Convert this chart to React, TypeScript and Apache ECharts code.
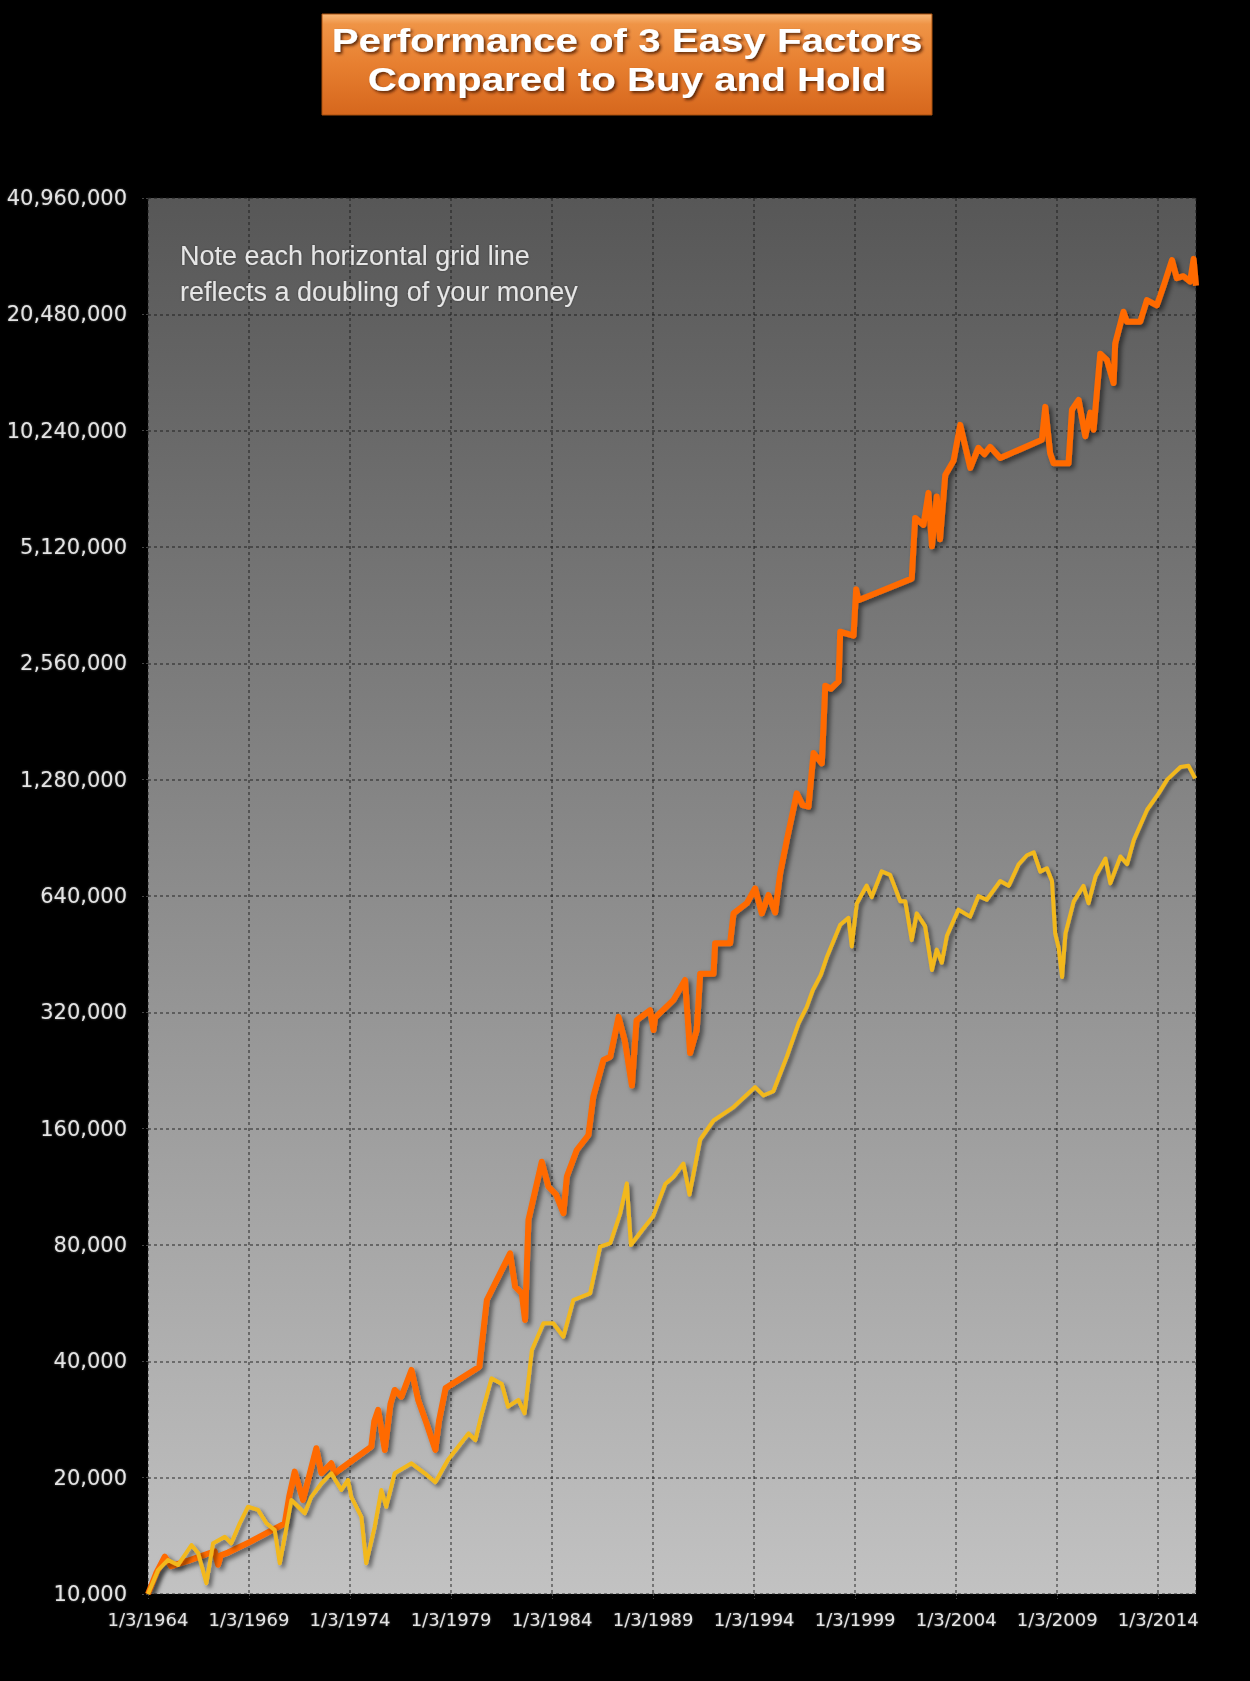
import React, { useEffect, useRef } from "react";
import * as echarts from "echarts";

// ---- tick labels ----
const xTickLabels = [
  "1/3/1964", "1/3/1969", "1/3/1974", "1/3/1979", "1/3/1984", "1/3/1989",
  "1/3/1994", "1/3/1999", "1/3/2004", "1/3/2009", "1/3/2014",
];
const yTickLabels = [
  "10,000", "20,000", "40,000", "80,000", "160,000", "320,000", "640,000",
  "1,280,000", "2,560,000", "5,120,000", "10,240,000", "20,480,000", "40,960,000",
];

const startYear = 1964;
const endYear = 2015.87;
const baseValue = 10000;

// ---- 3 Easy Factors (orange) ----
const factorYears = [
  1964.0, 1964.4, 1964.83, 1965.15, 1966.0, 1967.3, 1967.47, 1967.6, 1967.96, 1969.0,
  1970.0, 1970.77, 1971.0, 1971.26, 1971.67, 1971.9, 1972.33, 1972.58, 1973.07, 1973.24,
  1975.05, 1975.2, 1975.39, 1975.72, 1976.0, 1976.21, 1976.54, 1977.04, 1977.37, 1977.8,
  1978.22, 1978.4, 1978.73, 1980.4, 1980.77, 1981.92, 1982.17, 1982.5, 1982.66, 1982.83,
  1983.49, 1983.82, 1984.2, 1984.56, 1984.73, 1985.22, 1985.8, 1986.04, 1986.54, 1986.88,
  1987.29, 1987.6, 1987.95, 1988.18, 1988.85, 1989.02, 1989.1, 1990.0, 1990.58, 1990.83,
  1991.16, 1991.33, 1991.99, 1992.07, 1992.81, 1992.98, 1993.64, 1994.05, 1994.38, 1994.71,
  1995.04, 1995.29, 1995.62, 1996.11, 1996.4, 1996.69, 1996.94, 1997.35, 1997.52, 1997.8,
  1998.18, 1998.26, 1998.92, 1999.05, 1999.16, 2001.8, 2001.97, 2002.38, 2002.63, 2002.8,
  2003.04, 2003.2, 2003.46, 2003.87, 2004.2, 2004.7, 2005.1, 2005.4, 2005.68, 2006.18,
  2008.24, 2008.41, 2008.65, 2008.82, 2009.56, 2009.73, 2010.06, 2010.39, 2010.64, 2010.8,
  2011.13, 2011.46, 2011.79, 2011.87, 2012.28, 2012.45, 2013.11, 2013.44, 2013.93, 2014.26,
  2014.68, 2014.92, 2015.25, 2015.58, 2015.75, 2015.87,
];
const factorValues = [
  10000, 11300, 12500, 11800, 12200, 12900, 11900, 12600, 12800, 13600,
  14500, 15240, 18000, 20740, 17510, 19500, 23830, 20530, 21790, 20530,
  24060, 28000, 29940, 23590, 31000, 33730, 32400, 38000, 31780, 27500,
  23600, 28000, 34100, 38750, 57650, 76140, 62400, 60000, 51170, 92860,
  131400, 113200, 108000, 96650, 120300, 140900, 154100, 193700, 240900, 245600,
  311400, 270000, 207000, 305000, 324000, 288000, 310000, 344000, 388000, 251000,
  288000, 403000, 403000, 483000, 483000, 577000, 613000, 670000, 577000, 644000,
  580000, 733000, 894000, 1180000, 1100000, 1090000, 1500000, 1410000, 2240000, 2200000,
  2300000, 3090000, 3020000, 3980000, 3730000, 4240000, 6090000, 5840000, 7070000, 5140000,
  6920000, 5360000, 7860000, 8560000, 10600000, 8200000, 9250000, 8900000, 9300000, 8700000,
  9700000, 11800000, 8950000, 8430000, 8430000, 11600000, 12300000, 9900000, 11400000, 10300000,
  16200000, 15600000, 13600000, 17200000, 20800000, 19600000, 19600000, 22300000, 21600000, 24200000,
  28300000, 25400000, 25700000, 24900000, 28500000, 24300000,
];

// ---- Buy and Hold (yellow) ----
const holdYears = [
  1964.0, 1964.5, 1964.99, 1965.49, 1966.15, 1966.48, 1966.89, 1967.22, 1967.8, 1968.12,
  1968.54, 1968.95, 1969.45, 1969.86, 1970.27, 1970.52, 1970.77, 1971.1, 1971.76, 1972.08,
  1972.58, 1973.07, 1973.57, 1973.9, 1974.06, 1974.56, 1974.8, 1975.22, 1975.55, 1975.79,
  1976.21, 1977.04, 1977.7, 1978.22, 1978.84, 1979.87, 1980.2, 1980.48, 1981.0, 1981.51,
  1981.82, 1982.33, 1982.64, 1983.0, 1983.57, 1984.06, 1984.56, 1985.05, 1985.88, 1986.38,
  1986.88, 1987.37, 1987.7, 1987.9, 1988.5, 1989.0, 1989.6, 1990.0, 1990.5, 1990.8,
  1991.33, 1991.99, 1992.98, 1994.05, 1994.46, 1994.95, 1995.62, 1996.2, 1996.6, 1996.9,
  1997.3, 1997.6, 1998.26, 1998.67, 1998.83, 1999.08, 1999.57, 1999.82, 2000.31, 2000.73,
  2001.23, 2001.48, 2001.8, 2002.05, 2002.46, 2002.8, 2003.04, 2003.29, 2003.54, 2004.11,
  2004.69, 2005.1, 2005.51, 2006.18, 2006.6, 2007.09, 2007.5, 2007.84, 2008.16, 2008.49,
  2008.74, 2008.9, 2009.07, 2009.24, 2009.41, 2009.82, 2010.3, 2010.55, 2010.9, 2011.39,
  2011.63, 2012.13, 2012.46, 2012.79, 2013.45, 2014.02, 2014.44, 2015.1, 2015.5, 2015.83,
];
const holdValues = [
  10000, 11530, 12250, 11890, 13390, 12770, 10660, 13530, 14070, 13530,
  15240, 16820, 16500, 15240, 14640, 12010, 14070, 17510, 16180, 17840,
  19320, 20530, 18590, 19730, 17840, 15830, 12010, 14940, 18590, 16820,
  20530, 21790, 20530, 19470, 22220, 26050, 25000, 28760, 36150, 34960,
  30530, 31780, 29350, 42790, 50180, 50180, 46330, 57650, 60000, 79200,
  80900, 96650, 115500, 80000, 88000, 95000, 115000, 120000, 130000, 108000,
  150000, 168000, 182000, 205000, 195000, 200000, 246000, 300000, 330000, 365000,
  400000, 445000, 539000, 562000, 474000, 612000, 681000, 636000, 741000, 726000,
  620000, 620000, 492000, 577000, 535000, 412000, 465000, 430000, 505000, 590000,
  566000, 640000, 626000, 700000, 680000, 773000, 816000, 830000, 740000, 755000,
  700000, 512000, 470000, 395000, 512000, 620000, 680000, 613000, 720000, 800000,
  690000, 810000, 774000, 893000, 1070000, 1180000, 1280000, 1380000, 1390000, 1290000,
];

const toPoints = (years: number[], values: number[]) =>
  years.map((yr, i) => [yr - startYear, Math.log2(values[i] / baseValue)]);

export default function App() {
  const ref = useRef<HTMLDivElement>(null);

  useEffect(() => {
    if (!ref.current) return;
    const chart = echarts.init(ref.current, undefined, { renderer: "svg" });

    const gridLine = { color: "rgba(25,25,25,0.6)", type: [3, 3] as any, width: 1.5 };

    const titleStyle = {
      x: 0,
      y: 0,
      font: 'bold 33px "Liberation Sans", Arial, sans-serif',
      fill: "#ffffff",
      textAlign: "center",
      align: "center",
      textVerticalAlign: "middle",
      verticalAlign: "middle",
      textShadowColor: "rgba(70,25,0,0.85)",
      textShadowBlur: 3,
      textShadowOffsetX: 2,
      textShadowOffsetY: 2,
    };
    const noteStyle = {
      font: '27px "Liberation Sans", Arial, sans-serif',
      fill: "#e6e6e6",
      textAlign: "left",
      align: "left",
      textVerticalAlign: "middle",
      verticalAlign: "middle",
      textShadowColor: "rgba(0,0,0,0.4)",
      textShadowBlur: 2,
    };

    const option: any = {
      animation: false,
      backgroundColor: "#000000",
      grid: {
        left: 148,
        top: 198,
        width: 1048,
        height: 1396,
        show: true,
        borderWidth: 0,
        backgroundColor: new echarts.graphic.LinearGradient(0, 0, 0, 1, [
          { offset: 0, color: "#575757" },
          { offset: 1, color: "#c2c2c2" },
        ]),
      },
      xAxis: {
        type: "value",
        min: 0,
        max: endYear - startYear,
        interval: 5,
        axisLine: { show: false },
        axisTick: { show: true, length: 5, lineStyle: { color: "#444", type: [2, 2] } },
        splitLine: { show: true, lineStyle: gridLine },
        axisLabel: {
          margin: 16,
          color: "#e4e4e4",
          fontSize: 18,
          fontFamily: "DejaVu Sans",
          showMaxLabel: false,
          textShadowColor: "rgba(255,255,255,0.35)",
          textShadowBlur: 2,
          formatter: (v: number) => {
            const i = Math.round(v / 5);
            return Math.abs(v - i * 5) < 1e-6 && xTickLabels[i] ? xTickLabels[i] : "";
          },
        },
      },
      yAxis: {
        type: "value",
        min: 0,
        max: 12,
        interval: 1,
        axisLine: { show: false },
        axisTick: { show: true, length: 6, lineStyle: { color: "#444", type: [2, 2] } },
        splitLine: { show: true, lineStyle: gridLine },
        axisLabel: {
          margin: 21,
          color: "#e4e4e4",
          fontSize: 21,
          fontFamily: "DejaVu Sans",
          textShadowColor: "rgba(255,255,255,0.35)",
          textShadowBlur: 2,
          formatter: (v: number) => yTickLabels[Math.round(v)] ?? "",
        },
      },
      series: [
        {
          name: "3 Easy Factors",
          type: "line",
          data: toPoints(factorYears, factorValues),
          showSymbol: false,
          z: 3,
          lineStyle: {
            color: "#FF6A00",
            width: 6,
            join: "round",
            shadowColor: "rgba(0,0,0,0.55)",
            shadowBlur: 5,
            shadowOffsetX: 3,
            shadowOffsetY: 3,
          },
        },
        {
          name: "Buy and Hold",
          type: "line",
          data: toPoints(holdYears, holdValues),
          showSymbol: false,
          z: 4,
          lineStyle: {
            color: "#F2B81E",
            width: 4,
            join: "round",
            shadowColor: "rgba(0,0,0,0.5)",
            shadowBlur: 4,
            shadowOffsetX: 3,
            shadowOffsetY: 3,
          },
        },
      ],
      graphic: [
        {
          type: "rect",
          shape: { x: 322, y: 14, width: 610, height: 101 },
          style: {
            fill: new echarts.graphic.LinearGradient(0, 0, 0, 1, [
              { offset: 0, color: "#f8b878" },
              { offset: 0.1, color: "#ef9446" },
              { offset: 0.5, color: "#e77f30" },
              { offset: 1, color: "#d6671d" },
            ]),
            stroke: "#a9500f",
            lineWidth: 1,
          },
          z: 10,
        },
        {
          type: "text",
          x: 627,
          y: 41,
          scaleX: 1.22,
          z: 11,
          style: { ...titleStyle, text: "Performance of 3 Easy Factors" },
        },
        {
          type: "text",
          x: 627,
          y: 80,
          scaleX: 1.22,
          z: 11,
          style: { ...titleStyle, text: "Compared to Buy and Hold" },
        },
        {
          type: "text",
          x: 180,
          y: 256,
          z: 11,
          style: { ...noteStyle, text: "Note each horizontal grid line" },
        },
        {
          type: "text",
          x: 180,
          y: 292,
          z: 11,
          style: { ...noteStyle, text: "reflects a doubling of your money" },
        },
      ],
    };

    chart.setOption(option);
    return () => chart.dispose();
  }, []);

  return (
    <div
      ref={ref}
      style={{
        position: "absolute",
        left: 0,
        top: 0,
        width: 1250,
        height: 1681,
        background: "#000",
      }}
    />
  );
}
